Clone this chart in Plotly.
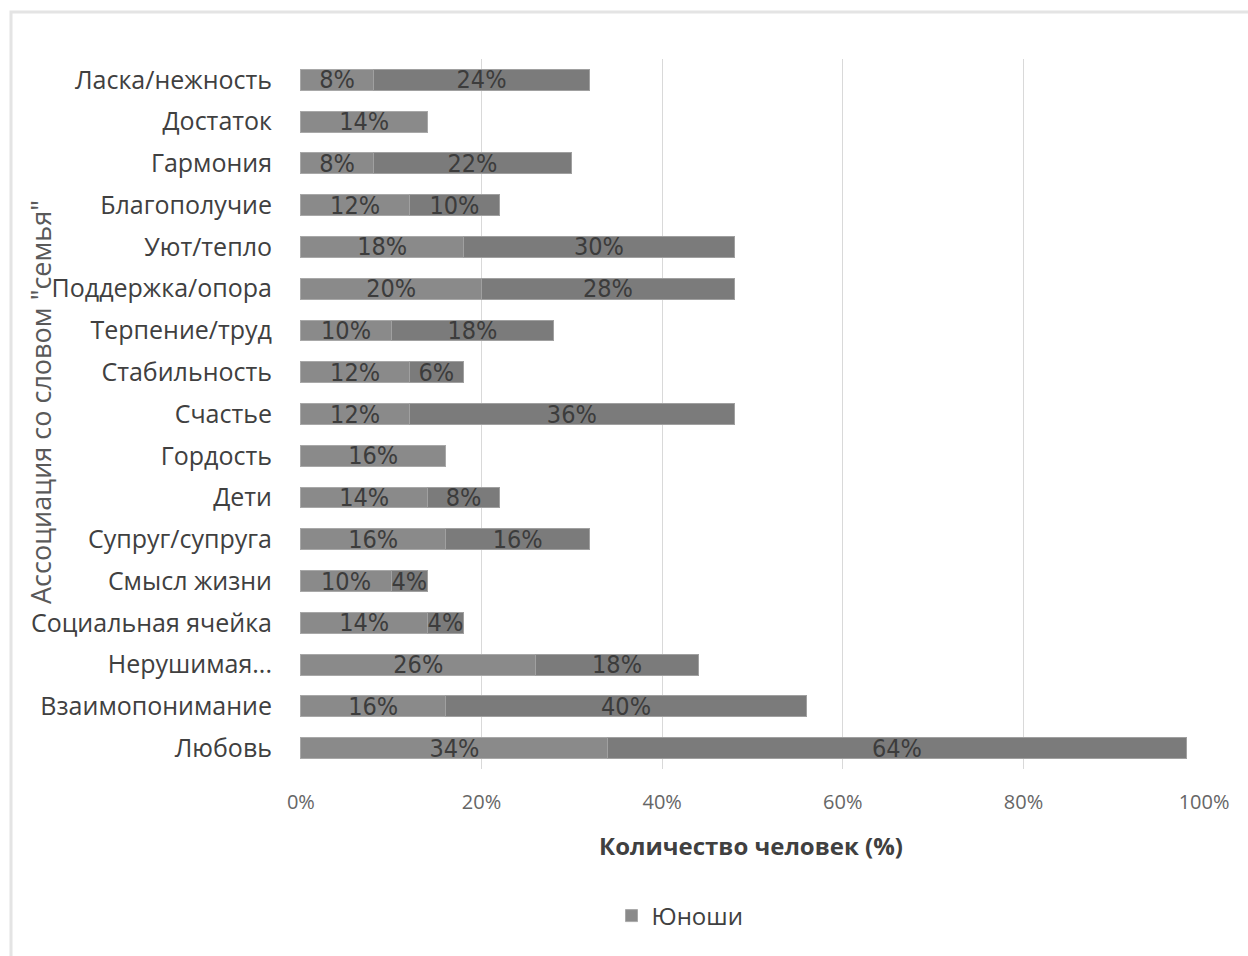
import plotly.graph_objects as go

# Categories listed top to bottom
categories = [
    "Ласка/нежность", "Достаток", "Гармония", "Благополучие", "Уют/тепло",
    "Поддержка/опора", "Терпение/труд", "Стабильность", "Счастье", "Гордость",
    "Дети", "Супруг/супруга", "Смысл жизни", "Социальная ячейка",
    "Нерушимая...", "Взаимопонимание", "Любовь",
]
boys = [8, 14, 8, 12, 18, 20, 10, 12, 12, 16, 14, 16, 10, 14, 26, 16, 34]
girls = [24, None, 22, 10, 30, 28, 18, 6, 36, None, 8, 16, 4, 4, 18, 40, 64]
x_ticks = [0, 20, 40, 60, 80, 100]
x_tick_labels = ["0%", "20%", "40%", "60%", "80%", "100%"]

W, H = 1248, 956
L, R, T, B = 300, 43, 59, 187
pw, ph = W - L - R, H - T - B


def px_x(x):
    return (x - L) / pw


def px_y(y):
    return (H - B - y) / ph


label_font = dict(family="DejaVu Sans Condensed, sans-serif",
                  size=25, color="#3c3c3c")
main_font = "Open Sans, sans-serif"

fig = go.Figure()
fig.add_trace(go.Bar(
    y=categories, x=boys, orientation="h", name="Юноши",
    marker=dict(color="#8a8a8a", line=dict(color="#a8a8a8", width=1)),
    text=[f"{v}%" for v in boys], textposition="inside",
    insidetextanchor="middle", constraintext="none", textfont=label_font,
    showlegend=True,
))
fig.add_trace(go.Bar(
    y=categories, x=girls, orientation="h", name="Девушки",
    marker=dict(color="#7b7b7b", line=dict(color="#a0a0a0", width=1)),
    text=[f"{v}%" if v else "" for v in girls], textposition="inside",
    insidetextanchor="middle", constraintext="none", textfont=label_font,
    showlegend=False,
))

fig.update_layout(
    width=W, height=H,
    barmode="stack", bargap=0.5,
    plot_bgcolor="white", paper_bgcolor="white",
    margin=dict(l=L, r=R, t=T, b=B, autoexpand=False),
    font=dict(family=main_font, color="#404040"),
    xaxis=dict(
        range=[-0.1, 100.1], tickvals=x_ticks, ticktext=x_tick_labels,
        showgrid=True, gridcolor="#d9d9d9", gridwidth=1,
        zeroline=False, showline=False,
        tickfont=dict(family=main_font, size=20, color="#666666"),
        ticklabelstandoff=19,
    ),
    yaxis=dict(
        autorange="reversed", showgrid=False, showline=False, zeroline=False,
        tickfont=dict(family=main_font, size=25, color="#404040"),
        ticklabelstandoff=27,
    ),
    legend=dict(
        orientation="h", x=px_x(680), xanchor="center",
        y=px_y(916), yanchor="middle",
        font=dict(family=main_font, size=24, color="#404040"),
    ),
    annotations=[
        dict(text="<b>Количество человек (%)</b>", xref="paper", yref="paper",
             x=px_x(751), y=px_y(845), showarrow=False,
             xanchor="center", yanchor="middle",
             font=dict(family=main_font, size=24, color="#404040")),
        dict(text='Ассоциация со словом "семья"', xref="paper", yref="paper",
             x=px_x(40), y=px_y(402), showarrow=False, textangle=-90,
             xanchor="center", yanchor="middle",
             font=dict(family=main_font, size=27, color="#595959")),
    ],
    shapes=[
        dict(type="rect", xref="paper", yref="paper",
             x0=px_x(11), x1=px_x(1260), y0=px_y(970), y1=px_y(12),
             line=dict(color="#e4e4e4", width=3), layer="below"),
    ],
)

fig.write_html("out.html")
